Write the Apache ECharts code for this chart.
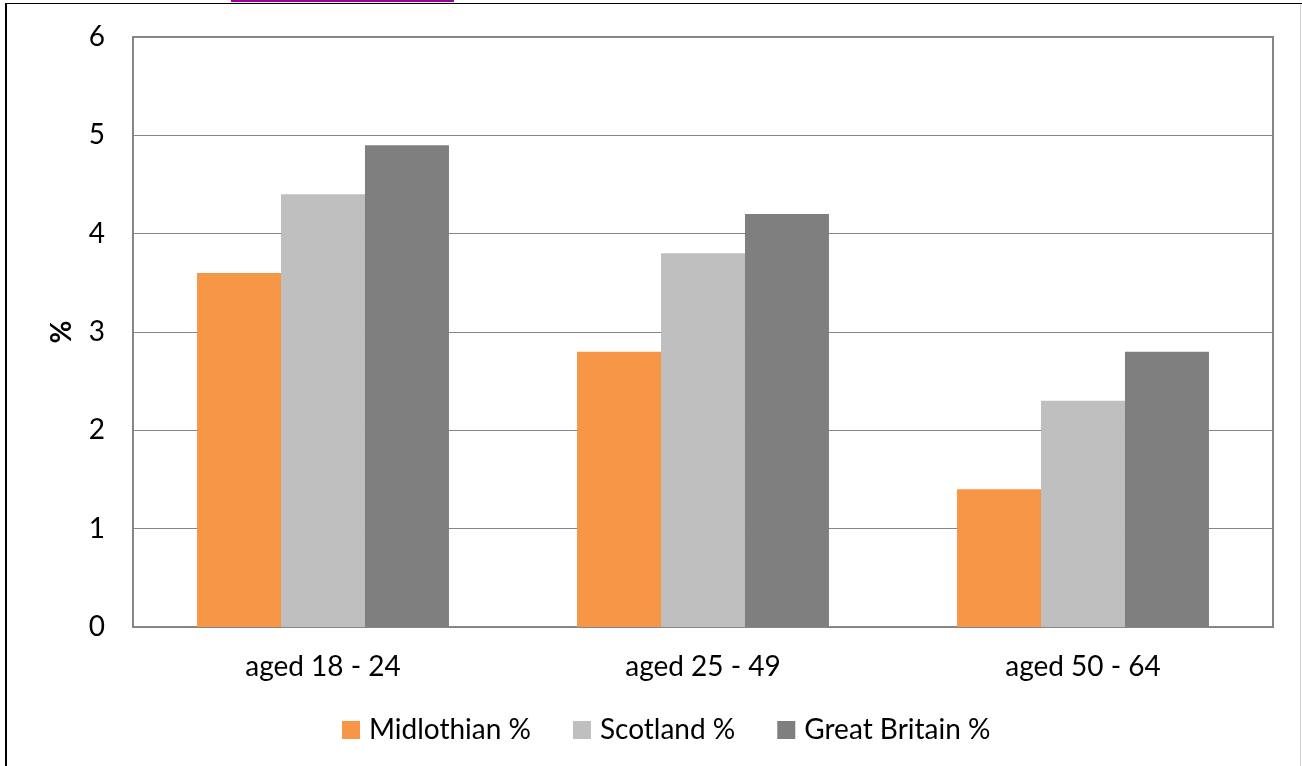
<!DOCTYPE html>
<html><head><meta charset="utf-8">
<script src="https://cdn.jsdelivr.net/npm/echarts@6/dist/echarts.min.js"></script>
<style>html,body{margin:0;padding:0;background:#fff}#c{width:1302px;height:766px}</style>
</head><body><div id="c"></div>
<script>
const categories = ['aged 18 - 24', 'aged 25 - 49', 'aged 50 - 64'];
const midlothian = [3.6, 2.8, 1.4];
const scotland = [4.4, 3.8, 2.3];
const greatBritain = [4.9, 4.2, 2.8];
const seriesNames = ['Midlothian %', 'Scotland %', 'Great Britain %'];
const colors = ['#F79646', '#BFBFBF', '#7F7F7F'];

const font = 'Lato, "Open Sans", sans-serif';
const chart = echarts.init(document.getElementById('c'));
chart.setOption({
  animation: false,
  color: colors,
  textStyle: { fontFamily: font },
  grid: { left: 133, right: 29, top: 37, bottom: 139, show: true, borderColor: '#868686', borderWidth: 2, containLabel: false },
  legend: {
    top: 711, left: 337, itemWidth: 18, itemHeight: 18, itemGap: 42,
    icon: 'rect',
    textStyle: { fontSize: 28, color: '#000', fontFamily: font, padding: [0, 0, 0, 4] },
    data: seriesNames
  },
  xAxis: {
    type: 'category', data: categories,
    axisLine: { lineStyle: { color: '#868686', width: 2 } },
    axisTick: { show: false },
    axisLabel: { fontSize: 28, color: '#000', margin: 26, fontFamily: font }
  },
  yAxis: {
    type: 'value', min: 0, max: 6, interval: 1,
    name: '%', nameLocation: 'middle', nameGap: 57, nameRotate: 90,
    nameTextStyle: { fontSize: 28, fontWeight: 'bold', color: '#000', fontFamily: font },
    axisLine: { show: false }, axisTick: { show: false },
    axisLabel: { fontSize: 28, color: '#000', margin: 28, fontFamily: font },
    splitLine: { lineStyle: { color: '#868686', width: 1 } }
  },
  series: [
    { name: seriesNames[0], type: 'bar', data: midlothian, barGap: '0%', barCategoryGap: '33.7%' },
    { name: seriesNames[1], type: 'bar', data: scotland, barGap: '0%', barCategoryGap: '33.7%' },
    { name: seriesNames[2], type: 'bar', data: greatBritain, barGap: '0%', barCategoryGap: '33.7%' }
  ],
  graphic: [
    { type: 'line', shape: { x1: 6, y1: 3.5, x2: 1302, y2: 3.5 }, style: { stroke: '#000', lineWidth: 1 } },
    { type: 'line', shape: { x1: 6, y1: 3, x2: 6, y2: 766 }, style: { stroke: '#000', lineWidth: 2 } },
    { type: 'line', shape: { x1: 1300.5, y1: 4, x2: 1300.5, y2: 766 }, style: { stroke: '#d0d0d0', lineWidth: 1 } },
    { type: 'rect', shape: { x: 231, y: 0, width: 223, height: 2 }, style: { fill: '#9B009B' } }
  ]
});
</script></body></html>
